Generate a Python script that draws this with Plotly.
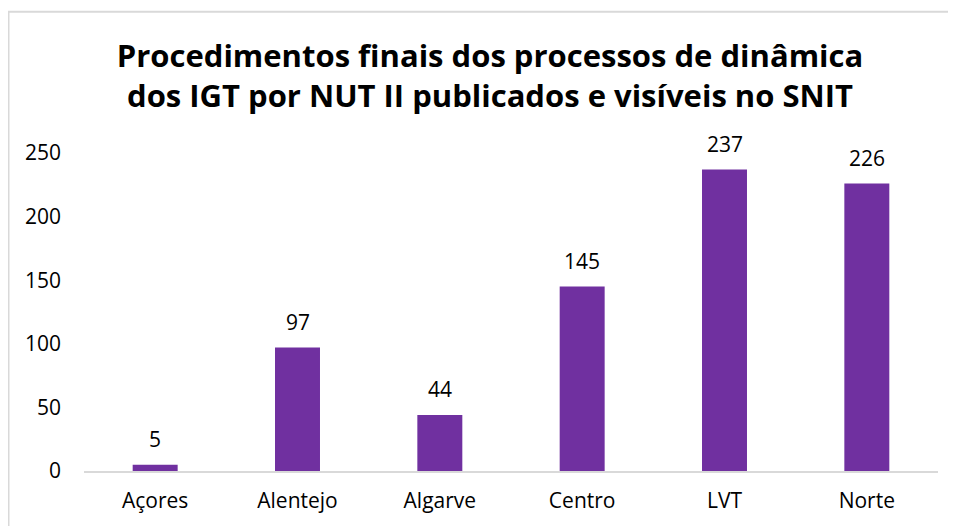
import plotly.graph_objects as go

categories = ["Açores", "Alentejo", "Algarve", "Centro", "LVT", "Norte"]
values = [5, 97, 44, 145, 237, 226]
tick_vals = [0, 50, 100, 150, 200, 250]

# The page has an 8px body margin; figure coords are page coords minus 8.
W, H = 948, 518
L, R, T, B = 76, 18, 145, 50
pw = W - L - R
ph = H - T - B

def px_x(x):
    return (x - L) / pw

def px_y(y):
    return (H - B - y) / ph

fig = go.Figure(go.Bar(
    x=categories, y=values,
    marker=dict(color="#7030A0", line=dict(width=0)),
    width=0.316,
    hoverinfo="x+y",
))

for c, v in zip(categories, values):
    fig.add_annotation(
        x=c, y=v, xref="x", yref="y", text=str(v), showarrow=False,
        yanchor="bottom", yshift=10,
        font=dict(size=21, color="#000000", family="Open Sans"),
    )

fig.update_layout(
    width=W, height=H,
    margin=dict(l=L, r=R, t=T, b=B),
    paper_bgcolor="white", plot_bgcolor="white",
    title=dict(
        text="Procedimentos finais dos processos de dinâmica<br>dos IGT por NUT II publicados e visíveis no SNIT",
        x=(490 - 8) / W, xanchor="center", y=1 - (67 - 8) / H, yanchor="middle",
        font=dict(size=31, family="Open Sans", color="#000000", weight="bold"),
    ),
    showlegend=False,
    font=dict(family="Open Sans"),
)
fig.update_xaxes(
    showline=True, linecolor="#d9d9d9", linewidth=2, showgrid=False,
    ticks="", tickfont=dict(size=21, color="#000000"), ticklabelstandoff=10,
)
fig.update_yaxes(
    range=[0, 250], tickvals=tick_vals, showgrid=False, zeroline=False,
    showline=False, ticks="", tickfont=dict(size=21, color="#000000"),
    ticklabelstandoff=22,
)
fig.add_shape(
    type="rect", xref="paper", yref="paper",
    x0=px_x(0.5), x1=px_x(980), y0=px_y(560), y1=px_y(1.5),
    line=dict(color="#d9d9d9", width=2), fillcolor="rgba(0,0,0,0)", layer="below",
)
fig.write_html("out.html")
